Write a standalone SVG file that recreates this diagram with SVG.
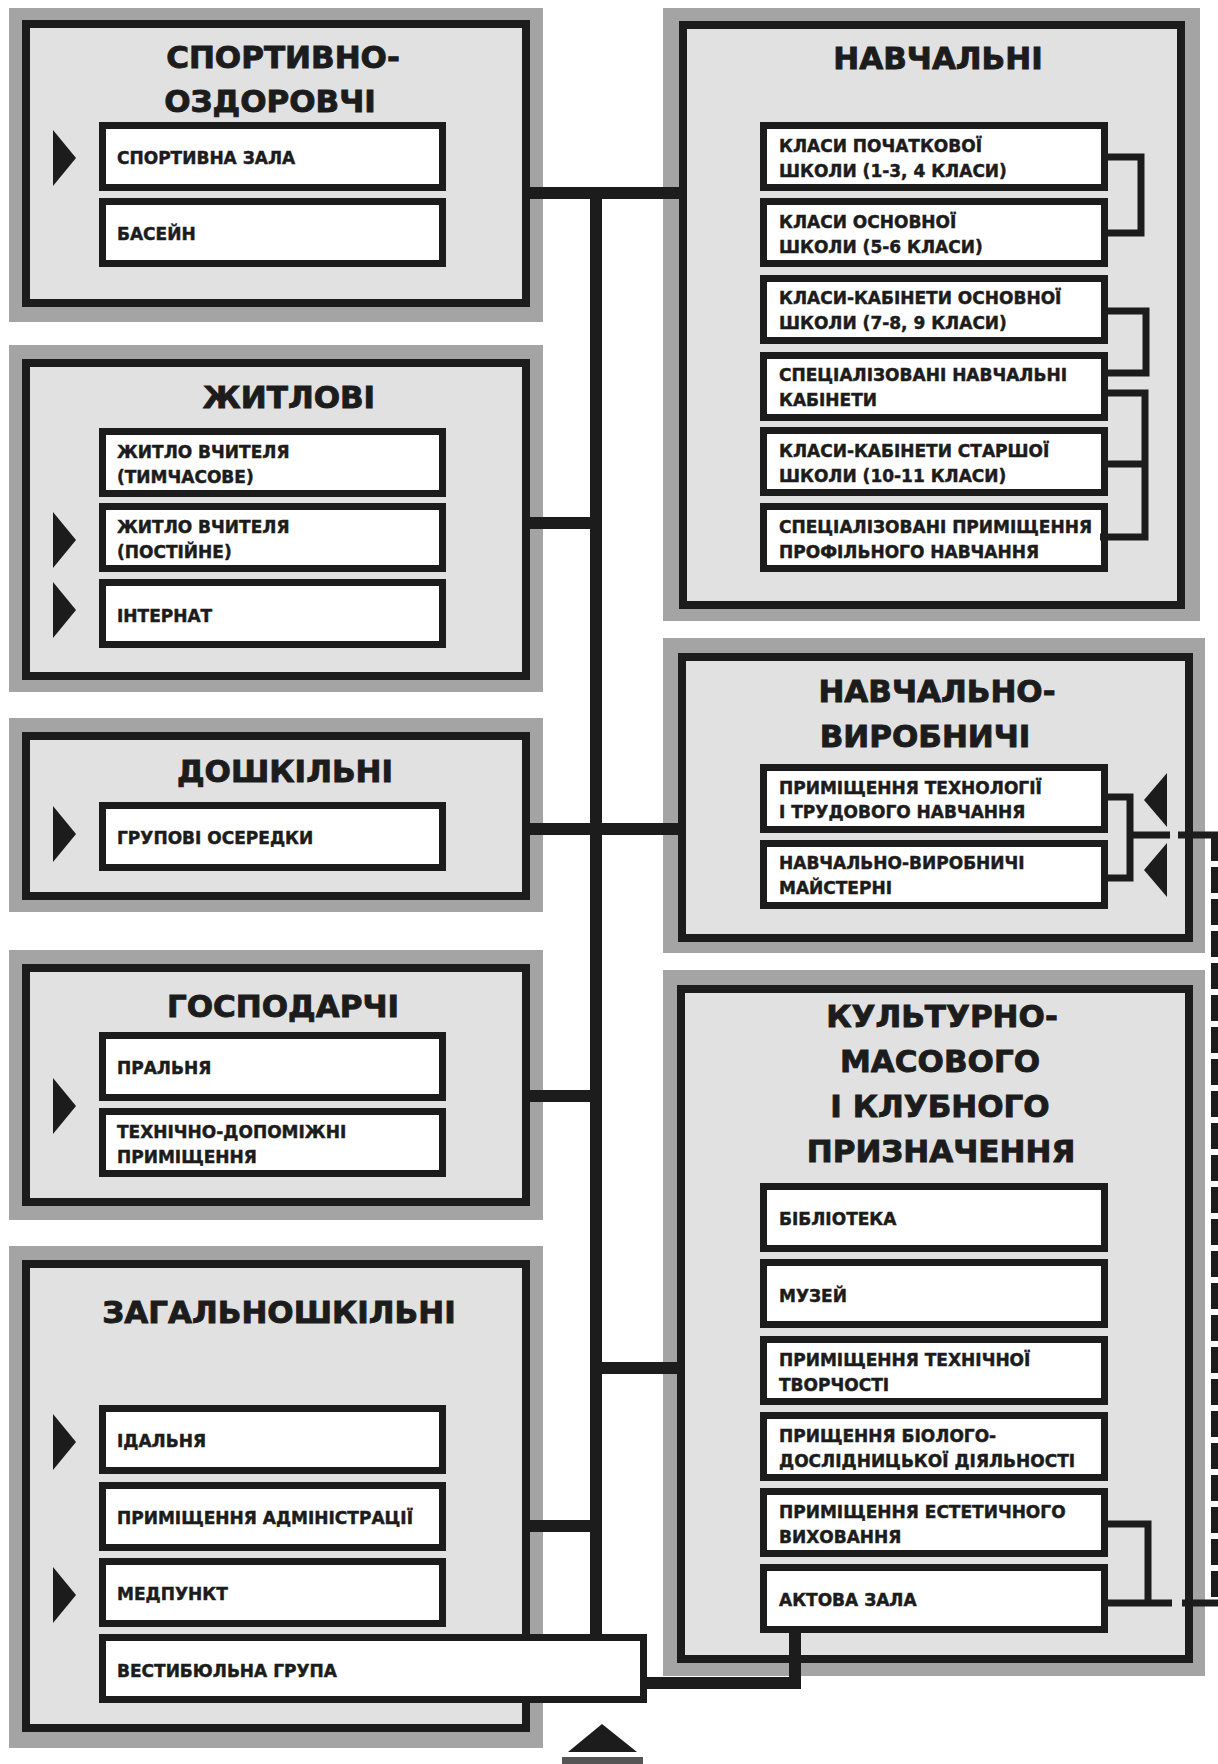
<svg xmlns="http://www.w3.org/2000/svg" width="1218" height="1764" viewBox="0 0 1218 1764">
<defs>
<style>
.grey{fill:#a4a4a4}
.panel{fill:#e1e1e1;stroke:#1c1c1c;stroke-width:8}
.box{fill:#fff;stroke:#1c1c1c;stroke-width:7}
.title{font-family:"DejaVu Sans","Liberation Sans",sans-serif;font-weight:bold;font-size:31px;fill:#1c1c1c;stroke:#1c1c1c;stroke-width:0.9;text-anchor:middle}
.lbl{font-family:"DejaVu Sans","Liberation Sans",sans-serif;font-weight:bold;font-size:17px;fill:#1c1c1c;stroke:#1c1c1c;stroke-width:0.45}
.conn{stroke:#1c1c1c;stroke-width:12;fill:none}
.br{stroke:#1c1c1c;stroke-width:7;fill:none}
.tri{fill:#1c1c1c}
</style>
</defs>
<rect width="1218" height="1764" fill="#fff"/>

<!-- LEFT COLUMN -->
<g id="sport">
<rect class="grey" x="9" y="8" width="534" height="314"/>
<rect class="panel" x="26" y="24" width="500" height="279"/>
<text class="title" x="283" y="68">СПОРТИВНО-</text>
<text class="title" x="270" y="112">ОЗДОРОВЧІ</text>
<rect class="box" x="102.5" y="125.5" width="340" height="62"/>
<text class="lbl" x="117" y="164">СПОРТИВНА ЗАЛА</text>
<rect class="box" x="102.5" y="201.5" width="340" height="62"/>
<text class="lbl" x="117" y="240">БАСЕЙН</text>
</g>

<g id="housing">
<rect class="grey" x="9" y="345" width="534" height="347"/>
<rect class="panel" x="26" y="363" width="500" height="313"/>
<text class="title" x="289" y="408">ЖИТЛОВІ</text>
<rect class="box" x="102.5" y="431.5" width="340" height="62"/>
<text class="lbl" x="117" y="458">ЖИТЛО ВЧИТЕЛЯ</text>
<text class="lbl" x="117" y="483">(ТИМЧАСОВЕ)</text>
<rect class="box" x="102.5" y="506.5" width="340" height="62"/>
<text class="lbl" x="117" y="533">ЖИТЛО ВЧИТЕЛЯ</text>
<text class="lbl" x="117" y="558">(ПОСТІЙНЕ)</text>
<rect class="box" x="102.5" y="582.5" width="340" height="62"/>
<text class="lbl" x="117" y="622">ІНТЕРНАТ</text>
</g>

<g id="preschool">
<rect class="grey" x="9" y="718" width="534" height="194"/>
<rect class="panel" x="26" y="736" width="500" height="160"/>
<text class="title" x="285" y="782">ДОШКІЛЬНІ</text>
<rect class="box" x="102.5" y="805.5" width="340" height="62"/>
<text class="lbl" x="117" y="844">ГРУПОВІ ОСЕРЕДКИ</text>
</g>

<g id="household">
<rect class="grey" x="9" y="950" width="534" height="270"/>
<rect class="panel" x="26" y="968" width="500" height="234"/>
<text class="title" x="283" y="1017">ГОСПОДАРЧІ</text>
<rect class="box" x="102.5" y="1035.5" width="340" height="62"/>
<text class="lbl" x="117" y="1074">ПРАЛЬНЯ</text>
<rect class="box" x="102.5" y="1111.5" width="340" height="62"/>
<text class="lbl" x="117" y="1138">ТЕХНІЧНО-ДОПОМІЖНІ</text>
<text class="lbl" x="117" y="1163">ПРИМІЩЕННЯ</text>
</g>

<g id="general">
<rect class="grey" x="9" y="1246" width="534" height="502"/>
<rect class="panel" x="26" y="1264" width="500" height="464"/>
<text class="title" x="279" y="1323">ЗАГАЛЬНОШКІЛЬНІ</text>
<rect class="box" x="102.5" y="1408.5" width="340" height="62"/>
<text class="lbl" x="117" y="1447">ІДАЛЬНЯ</text>
<rect class="box" x="102.5" y="1485.5" width="340" height="62"/>
<text class="lbl" x="117" y="1524">ПРИМІЩЕННЯ АДМІНІСТРАЦІЇ</text>
<rect class="box" x="102.5" y="1561.5" width="340" height="62"/>
<text class="lbl" x="117" y="1600">МЕДПУНКТ</text>
</g>

<!-- RIGHT COLUMN -->
<g id="education">
<rect class="grey" x="663" y="8" width="537" height="613"/>
<rect class="panel" x="683" y="25" width="498" height="580"/>
<text class="title" x="938" y="69">НАВЧАЛЬНІ</text>
<rect class="box" x="763.5" y="125.5" width="341" height="62"/>
<text class="lbl" x="779" y="152">КЛАСИ ПОЧАТКОВОЇ</text>
<text class="lbl" x="779" y="177">ШКОЛИ (1-3, 4 КЛАСИ)</text>
<rect class="box" x="763.5" y="201.5" width="341" height="62"/>
<text class="lbl" x="779" y="228">КЛАСИ ОСНОВНОЇ</text>
<text class="lbl" x="779" y="253">ШКОЛИ (5-6 КЛАСИ)</text>
<rect class="box" x="763.5" y="278.5" width="341" height="62"/>
<text class="lbl" x="779" y="304">КЛАСИ-КАБІНЕТИ ОСНОВНОЇ</text>
<text class="lbl" x="779" y="329">ШКОЛИ (7-8, 9 КЛАСИ)</text>
<rect class="box" x="763.5" y="355.5" width="341" height="62"/>
<text class="lbl" x="779" y="381">СПЕЦІАЛІЗОВАНІ НАВЧАЛЬНІ</text>
<text class="lbl" x="779" y="406">КАБІНЕТИ</text>
<rect class="box" x="763.5" y="430.5" width="341" height="62"/>
<text class="lbl" x="779" y="457">КЛАСИ-КАБІНЕТИ СТАРШОЇ</text>
<text class="lbl" x="779" y="482">ШКОЛИ (10-11 КЛАСИ)</text>
<rect class="box" x="763.5" y="506.5" width="341" height="62"/>
<text class="lbl" x="779" y="533">СПЕЦІАЛІЗОВАНІ ПРИМІЩЕННЯ</text>
<text class="lbl" x="779" y="558">ПРОФІЛЬНОГО НАВЧАННЯ</text>
</g>

<g id="production">
<rect class="grey" x="663" y="638" width="542" height="315"/>
<rect class="panel" x="682" y="657" width="507" height="281"/>
<text class="title" x="937" y="702">НАВЧАЛЬНО-</text>
<text class="title" x="925" y="747">ВИРОБНИЧІ</text>
<rect class="box" x="763.5" y="767.5" width="341" height="62"/>
<text class="lbl" x="779" y="794">ПРИМІЩЕННЯ ТЕХНОЛОГІЇ</text>
<text class="lbl" x="779" y="818">І ТРУДОВОГО НАВЧАННЯ</text>
<rect class="box" x="763.5" y="843.5" width="341" height="62"/>
<text class="lbl" x="779" y="869">НАВЧАЛЬНО-ВИРОБНИЧІ</text>
<text class="lbl" x="779" y="894">МАЙСТЕРНІ</text>
</g>

<g id="culture">
<rect class="grey" x="663" y="970" width="542" height="706"/>
<rect class="panel" x="681" y="989" width="508" height="670"/>
<text class="title" x="942" y="1027">КУЛЬТУРНО-</text>
<text class="title" x="940" y="1072">МАСОВОГО</text>
<text class="title" x="940" y="1117">І КЛУБНОГО</text>
<text class="title" x="941" y="1162">ПРИЗНАЧЕННЯ</text>
<rect class="box" x="763.5" y="1186.5" width="341" height="62"/>
<text class="lbl" x="779" y="1225">БІБЛІОТЕКА</text>
<rect class="box" x="763.5" y="1262.5" width="341" height="62"/>
<text class="lbl" x="779" y="1302">МУЗЕЙ</text>
<rect class="box" x="763.5" y="1339.5" width="341" height="62"/>
<text class="lbl" x="779" y="1366">ПРИМІЩЕННЯ ТЕХНІЧНОЇ</text>
<text class="lbl" x="779" y="1391">ТВОРЧОСТІ</text>
<rect class="box" x="763.5" y="1415.5" width="341" height="62"/>
<text class="lbl" x="779" y="1442">ПРИЩЕННЯ БІОЛОГО-</text>
<text class="lbl" x="779" y="1467">ДОСЛІДНИЦЬКОЇ ДІЯЛЬНОСТІ</text>
<rect class="box" x="763.5" y="1491.5" width="341" height="62"/>
<text class="lbl" x="779" y="1518">ПРИМІЩЕННЯ ЕСТЕТИЧНОГО</text>
<text class="lbl" x="779" y="1543">ВИХОВАННЯ</text>
<rect class="box" x="763.5" y="1567.5" width="341" height="62"/>
<text class="lbl" x="779" y="1606">АКТОВА ЗАЛА</text>
</g>

<!-- CONNECTORS -->
<g id="connectors">
<line class="conn" x1="596" y1="188" x2="596" y2="1637"/>
<line class="conn" x1="530" y1="193" x2="679" y2="193"/>
<line class="conn" x1="530" y1="523" x2="596" y2="523"/>
<line class="conn" x1="530" y1="829" x2="678" y2="829"/>
<line class="conn" x1="530" y1="1096" x2="596" y2="1096"/>
<line class="conn" x1="596" y1="1368" x2="677" y2="1368"/>
<line class="conn" x1="530" y1="1526" x2="596" y2="1526"/>
<path class="conn" d="M795,1630 V1683 H640" stroke-width="13"/>
<path class="br" d="M1108,157 H1141 V233 H1108"/>
<path class="br" d="M1108,311 H1146 V373 H1108"/>
<path class="br" d="M1108,393 H1145 V537 H1100 M1108,464 H1145"/>
<path class="br" d="M1108,797 H1130 V878 H1108 M1130,835 H1170 M1178,835 H1218"/>
<path class="br" d="M1108,1524 H1148 V1603 M1108,1603 H1172 M1182,1603 H1218"/>
<path class="br" d="M1214.5,835 V1603" stroke-width="6" stroke-dasharray="26 6"/>
</g>

<g id="vestibule">
<rect class="box" x="102.5" y="1637.5" width="541" height="62"/>
<text class="lbl" x="117" y="1677">ВЕСТИБЮЛЬНА ГРУПА</text>
</g>

<g id="entries">
<polygon class="tri" points="53,130 76,158 53,186"/>
<polygon class="tri" points="53,512 76,540 53,568"/>
<polygon class="tri" points="53,582 76,610 53,638"/>
<polygon class="tri" points="53,806 76,834 53,862"/>
<polygon class="tri" points="53,1078 76,1106 53,1134"/>
<polygon class="tri" points="53,1414 76,1442 53,1470"/>
<polygon class="tri" points="53,1567 76,1595 53,1623"/>
<polygon class="tri" points="1167,773 1144,800 1167,827"/>
<polygon class="tri" points="1167,843 1144,870 1167,897"/>
</g>

<g id="entrance">
<polygon class="tri" points="602,1724 637,1752 568,1752"/>
<rect x="562" y="1757" width="81" height="7" fill="#555"/>
</g>
</svg>
